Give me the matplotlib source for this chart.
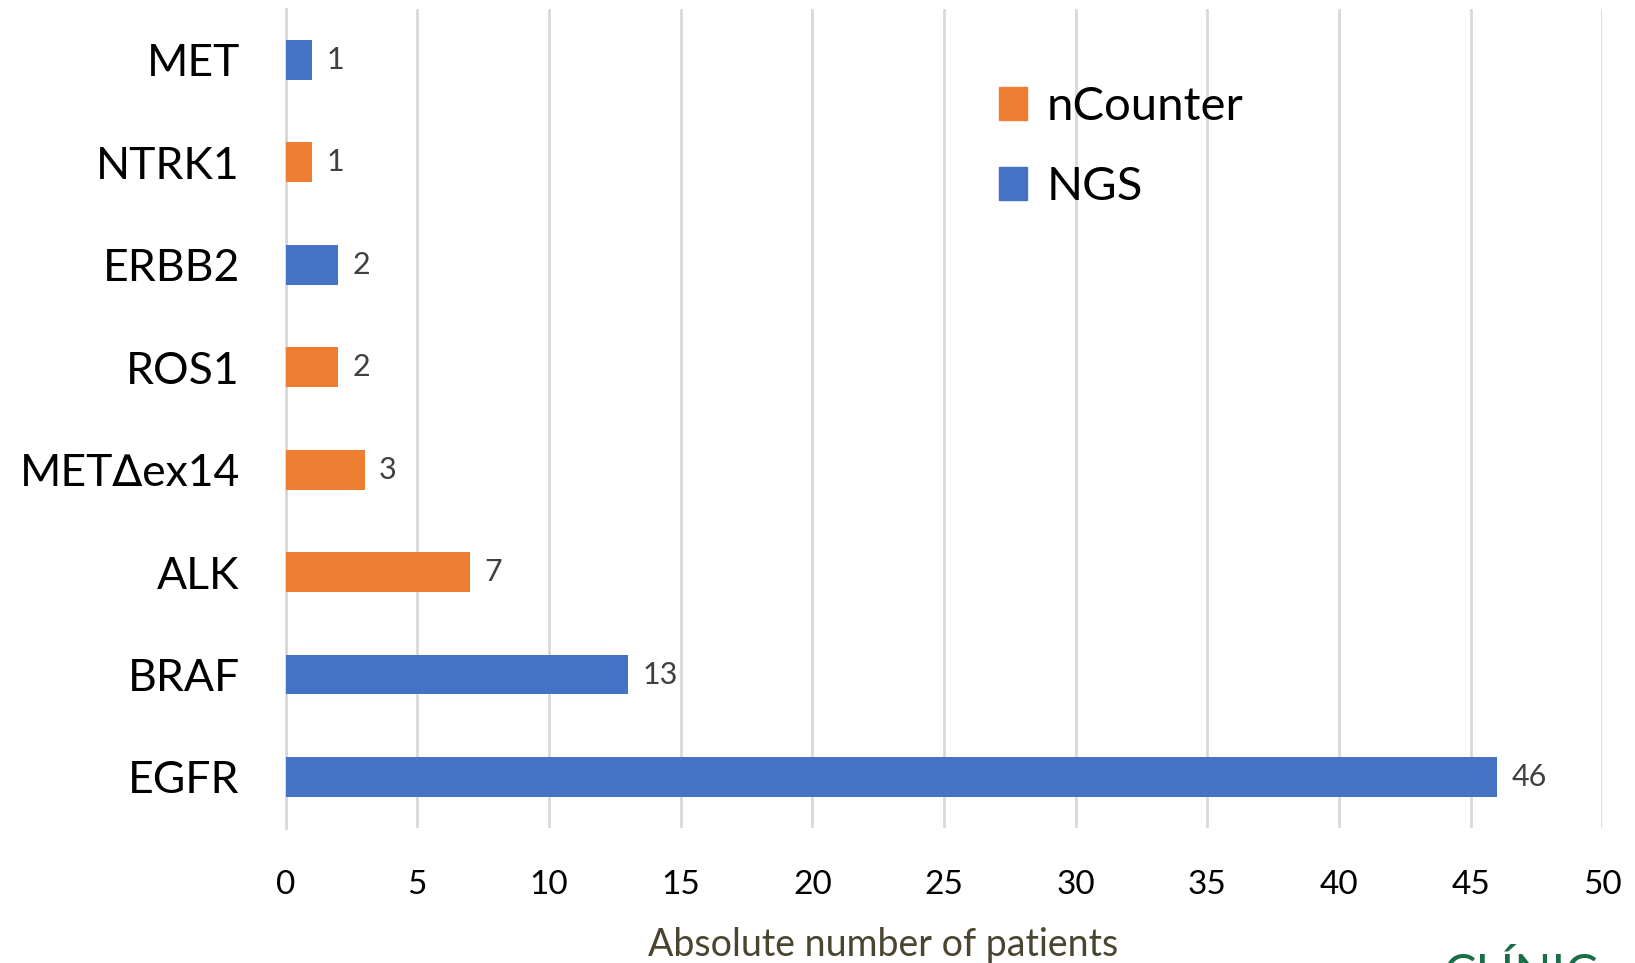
import matplotlib
matplotlib.use("Agg")
import matplotlib.pyplot as plt
from matplotlib.patches import Patch

plt.rcParams['font.family'] = ['Lato', 'DejaVu Sans']

# data, bottom to top
genes = ["EGFR", "BRAF", "ALK", "MET\u2206ex14", "ROS1", "ERBB2", "NTRK1", "MET"]
patients = [46, 13, 7, 3, 2, 2, 1, 1]
method = ["NGS", "NGS", "nCounter", "nCounter", "nCounter", "NGS", "nCounter", "NGS"]
xticks = [0, 5, 10, 15, 20, 25, 30, 35, 40, 45, 50]

colors = {"nCounter": "#ED7D31", "NGS": "#4472C4"}

fig = plt.figure(figsize=(16.35, 9.63), dpi=100)
ax = fig.add_axes([0.1747, 0.140, 0.8053, 0.851])

ypos = list(range(len(genes)))
ax.barh(ypos, patients, height=0.39,
        color=[colors[m] for m in method], zorder=3)

for y, v in zip(ypos, patients):
    ax.text(v + 0.55, y, str(v), va="center", ha="left",
            fontsize=22, color="#404040")

ax.set_xlim(0, 50)
ax.set_ylim(-0.5, len(genes) - 0.5)
ax.set_xticks(xticks)
ax.set_yticks(ypos)
ax.set_yticklabels(genes, fontsize=32)
ax.tick_params(axis="x", labelsize=24, length=0, pad=30)
ax.tick_params(axis="y", length=0, pad=33)
ax.grid(axis="x", color="#d9d9d9", linewidth=2, zorder=0)
for s in ["top", "right", "bottom"]:
    ax.spines[s].set_visible(False)
ax.spines["left"].set_color("#d9d9d9")
ax.spines["left"].set_linewidth(2)

ax.set_xlabel("Absolute number of patients", fontsize=27,
              color="#4a4530")
ax.xaxis.set_label_coords(0.454, -0.12)

handles = [Patch(color=colors["nCounter"], label="nCounter"),
           Patch(color=colors["NGS"], label="NGS")]
fig.legend(handles=handles, loc="upper left", bbox_to_anchor=(0.585, 0.955),
           frameon=False, fontsize=34, handlelength=0.6, handleheight=0.7,
           handletextpad=0.4, labelspacing=0.8)

fig.text(0.883, -0.012, "CL\u00cdNIC", fontsize=35, color="#1a6e46",
         ha="left", va="center")

fig.savefig("out.png", dpi=100)
